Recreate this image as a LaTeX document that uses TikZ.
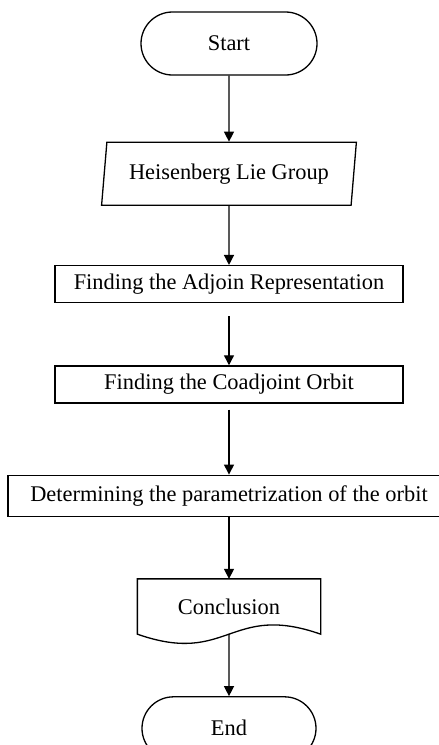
\documentclass[tikz,border=0pt]{standalone}
\usepackage{fontspec}
\setmainfont{Liberation Serif}
\usetikzlibrary{
  shapes.geometric,
  shapes.misc,
  positioning,
  arrows.meta
}

\begin{document}
\begin{tikzpicture}[x=1pt, y=1pt, line width=1.3pt,
    >={Triangle[length=10pt,width=10pt]},
    every node/.style={font=\fontsize{22.4}{26}\selectfont, inner sep=0pt},
    terminal/.style={draw, rounded rectangle, minimum width=176pt, minimum height=63pt},
    io/.style={draw, trapezium, trapezium left angle=78, trapezium right angle=102,
      trapezium stretches, minimum width=255pt, minimum height=63pt},
    process/.style={draw, rectangle, minimum width=348pt, minimum height=37pt},
    document/.style={minimum width=182pt, minimum height=54pt}]
    \useasboundingbox (0,0) rectangle (439,-745);
    \clip (0,0) rectangle (439,-745);
    \node[terminal] (start) at (229,-43.5) {Start};
    \node[io,below = 66pt of start] (group) {Heisenberg Lie Group};
    \node[process,below = 59pt of group] (adjoint) {Finding the Adjoin Representation};
    \node[process,below = 62pt of adjoint] (coadjoint) {Finding the Coadjoint Orbit};
    \node[process,below = 71pt of coadjoint,minimum width=442pt,minimum height=41pt] (param) {Determining the parametrization of the orbit};
    \node[document,below = 62pt of param] (concl) {Conclusion};
    \node[terminal,below = 62pt of concl,minimum width=174pt] (end) {End};

    \draw (concl.north west) -- (concl.north east) -- (concl.south east)
      .. controls +(-91,32) and +(91,-32) .. (concl.south west) -- cycle;

    \draw[->] (start) -- (group);
    \draw[->] (group) -- (adjoint);
    \draw[->,shorten <=13pt] (adjoint) -- (coadjoint);
    \draw[->,shorten <=6pt] (coadjoint) -- (param);
    \draw[->] (param) -- (concl);
    \draw[->] (concl) -- (end);
  \end{tikzpicture}
\end{document}
